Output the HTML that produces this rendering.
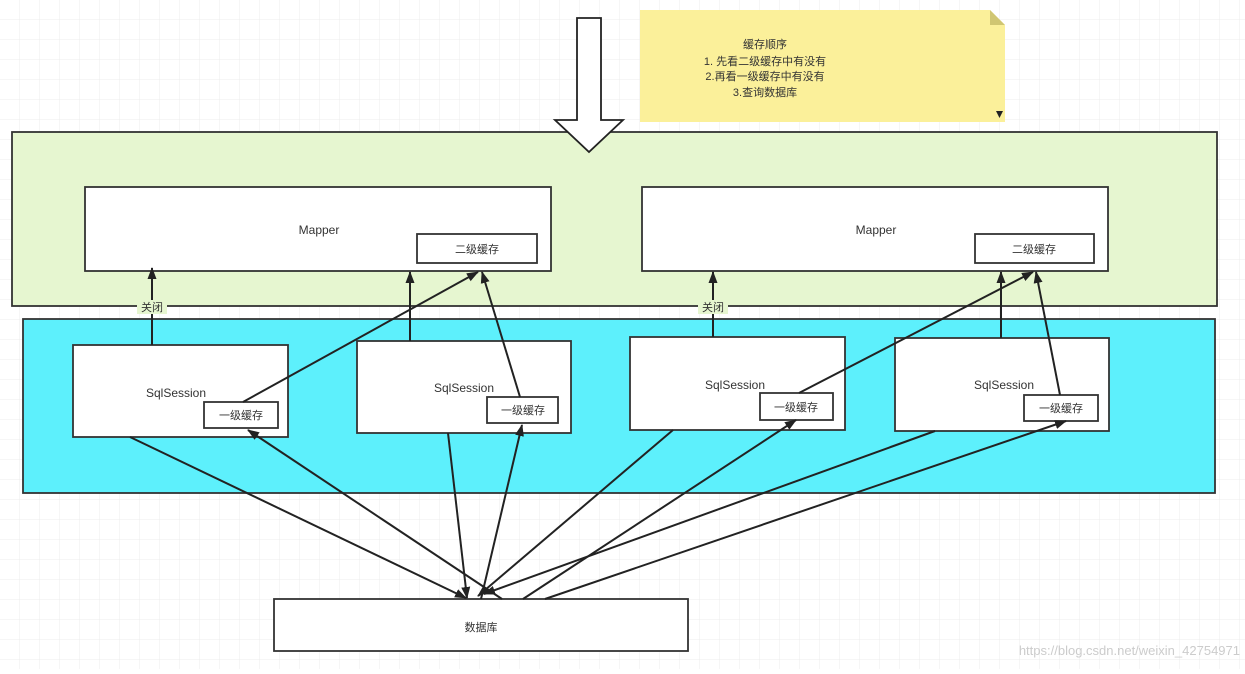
<!DOCTYPE html>
<html><head><meta charset="utf-8"><style>
body{margin:0;width:1245px;height:669px;overflow:hidden;background:#fff;}
text{font-family:"Liberation Sans","Noto Sans CJK SC",sans-serif;fill:#333;}
</style></head><body>
<svg width="1245" height="669" viewBox="0 0 1245 669" xmlns="http://www.w3.org/2000/svg">
<defs>
<pattern id="g" width="20" height="20" patternUnits="userSpaceOnUse"><path d="M20 0V20H0" fill="none" stroke="#ececec" stroke-width="1"/></pattern>
<marker id="a" markerWidth="12" markerHeight="12" refX="11" refY="6" orient="auto" markerUnits="userSpaceOnUse"><path d="M0,1.5 L12,6 L0,10.5 z" fill="#222"/></marker>
</defs>
<rect width="1245" height="669" fill="url(#g)"/>
<path d="M640,10 H990 L1005,25 V122 H640 Z" fill="#fbf09a"/>
<path d="M990,10 L1005,25 H990 Z" fill="#d0c672"/>
<path d="M996,111 L1003,111 L999.5,118 Z" fill="#222"/>
<g font-size="11" text-anchor="middle">
<text x="765" y="48">缓存顺序</text>
<text x="765" y="65">1. 先看二级缓存中有没有</text>
<text x="765" y="80">2.再看一级缓存中有没有</text>
<text x="765" y="96">3.查询数据库</text>
</g>
<rect x="12" y="132" width="1205" height="174" fill="#e6f6d0" stroke="#333" stroke-width="1.8"/>
<path d="M577,18 H601 V120 H623 L589,152 L555,120 H577 Z" fill="#fff" stroke="#222" stroke-width="1.8"/>
<rect x="85" y="187" width="466" height="84" fill="#fff" stroke="#333" stroke-width="1.8"/>
<text x="319" y="234" font-size="12" text-anchor="middle">Mapper</text>
<rect x="417" y="234" width="120" height="29" fill="#fff" stroke="#333" stroke-width="1.8"/>
<text x="477" y="253" font-size="11" text-anchor="middle">二级缓存</text>
<rect x="642" y="187" width="466" height="84" fill="#fff" stroke="#333" stroke-width="1.8"/>
<text x="876" y="234" font-size="12" text-anchor="middle">Mapper</text>
<rect x="975" y="234" width="119" height="29" fill="#fff" stroke="#333" stroke-width="1.8"/>
<text x="1034" y="253" font-size="11" text-anchor="middle">二级缓存</text>
<rect x="23" y="319" width="1192" height="174" fill="#5df0fc" stroke="#333" stroke-width="1.8"/>
<g fill="#fff" stroke="#333" stroke-width="1.8">
<rect x="73" y="345" width="215" height="92"/>
<rect x="357" y="341" width="214" height="92"/>
<rect x="630" y="337" width="215" height="93"/>
<rect x="895" y="338" width="214" height="93"/>
<rect x="204" y="402" width="74" height="26"/>
<rect x="487" y="397" width="71" height="26"/>
<rect x="760" y="393" width="73" height="27"/>
<rect x="1024" y="395" width="74" height="26"/>
<rect x="274" y="599" width="414" height="52"/>
</g>
<g font-size="12" text-anchor="middle">
<text x="176" y="397">SqlSession</text>
<text x="464" y="392">SqlSession</text>
<text x="735" y="389">SqlSession</text>
<text x="1004" y="389">SqlSession</text>
</g>
<g font-size="11" text-anchor="middle">
<text x="241" y="419">一级缓存</text>
<text x="523" y="414">一级缓存</text>
<text x="796" y="411">一级缓存</text>
<text x="1061" y="412">一级缓存</text>
<text x="481" y="631">数据库</text>
</g>
<g stroke="#222" stroke-width="2" fill="none" marker-end="url(#a)">
<path d="M152,345 V268"/>
<path d="M243,402 L478,272"/>
<path d="M410,341 V272"/>
<path d="M520,397 L482,272"/>
<path d="M713,337 V272"/>
<path d="M799,393 L1033,272"/>
<path d="M1001,338 V272"/>
<path d="M1060,395 L1036,272"/>
<path d="M130,437 L466,598"/>
<path d="M502,599 L248,430"/>
<path d="M448,433 L467,598"/>
<path d="M481,599 L522,425"/>
<path d="M673,430 L478,596"/>
<path d="M523,599 L796,420"/>
<path d="M935,431 L484,594"/>
<path d="M545,599 L1066,421"/>
</g>
<rect x="137" y="300" width="30" height="14" fill="#e6f6d0"/>
<text x="152" y="311" font-size="11" text-anchor="middle">关闭</text>
<rect x="698" y="300" width="30" height="14" fill="#e6f6d0"/>
<text x="713" y="311" font-size="11" text-anchor="middle">关闭</text>
<text x="1240" y="655" font-size="13" text-anchor="end" style="fill:#ccc">https://blog.csdn.net/weixin_42754971</text>
</svg>
</body></html>
